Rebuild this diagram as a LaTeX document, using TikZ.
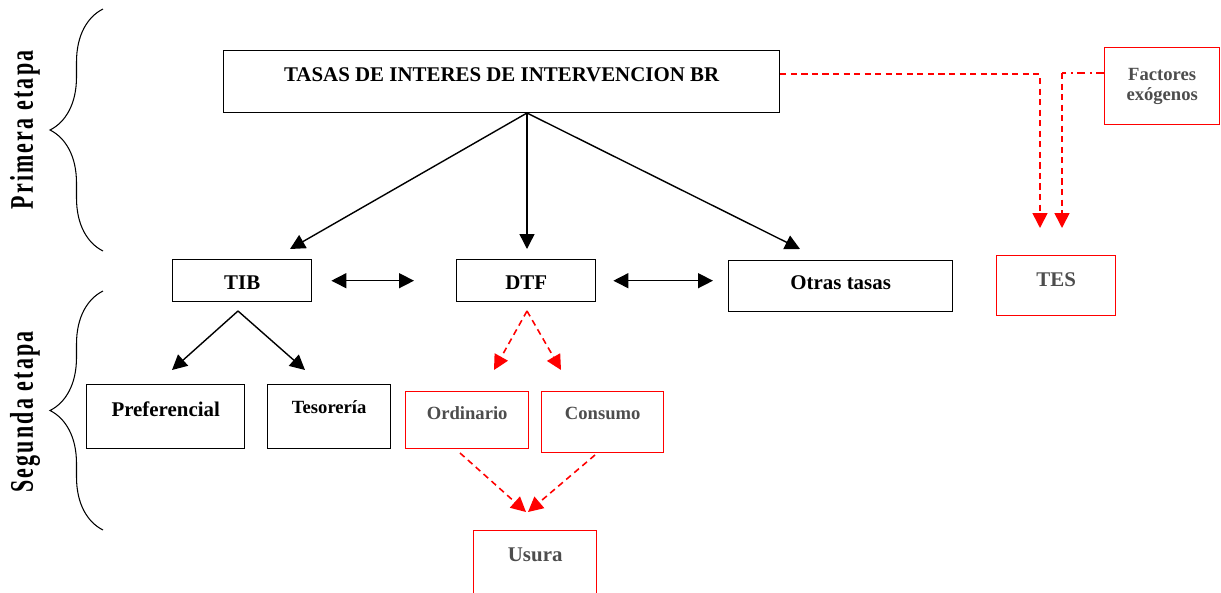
\documentclass[tikz,border=0pt]{standalone}
\usepackage{fontspec}
\setmainfont{Liberation Serif}
\newfontfamily\spaced[LetterSpace=10]{Liberation Serif}
\usetikzlibrary{arrows.meta}
\usetikzlibrary{decorations.pathreplacing}
\definecolor{txtgray}{HTML}{4D4D4D}
\tikzset{
  caja/.style={draw, line width=0.8pt, inner sep=0pt, anchor=north west, font=\fontsize{11.9}{14}\selectfont\bfseries},
  cajaroja/.style={caja, draw=red, text=txtgray},
  chica/.style={font=\fontsize{10.6}{11.3}\selectfont\bfseries},
  flecha/.style={->, line width=0.8pt},
  rojo/.style={->, red, line width=0.9pt, dash pattern=on 3.5pt off 2.5pt},
  llave/.style={decorate, decoration={brace, amplitude=1.06cm}, line width=0.6pt},
  etapa/.style={rotate=90, yscale=1.5, font=\spaced\fontsize{12.5}{14}\selectfont\bfseries}
}

\begin{document}
\begin{tikzpicture}[x=0.02cm, y=-0.02cm, >={Triangle[length=8.5pt,width=8.5pt]}]
\useasboundingbox (0,0) rectangle (1221,592);

% primera etapa
\node[caja, minimum width=11.12cm, text height=.62cm, text depth=.62cm] (main) at (223,50) {TASAS DE INTERES DE INTERVENCION BR};
\node[cajaroja, chica, align=center, minimum width=2.30cm, minimum height=1.54cm] (fac) at (1104,47) {Factores\\exógenos};

\node[caja, minimum width=2.78cm, text height=.60cm, text depth=.24cm] (tib) at (172,259) {TIB};
\node[caja, minimum width=2.78cm, text height=.60cm, text depth=.24cm] (dtf) at (456,259) {DTF};
\node[caja, minimum width=4.48cm, text height=.58cm, text depth=.44cm] (otras) at (728,260) {Otras tasas};
\node[cajaroja, minimum width=2.38cm, text height=.62cm, text depth=.58cm] (tes) at (996,255) {TES};

% segunda etapa
\node[caja, minimum width=3.16cm, text height=.64cm, text depth=.64cm] (pref) at (86,384) {Preferencial};
\node[caja, chica, minimum width=2.46cm, text height=.58cm, text depth=.70cm] (tesor) at (267,384) {Tesorería};
\node[cajaroja, chica, minimum width=2.46cm, text height=.56cm, text depth=.58cm] (ord) at (405,391) {Ordinario};
\node[cajaroja, chica, minimum width=2.44cm, text height=.56cm, text depth=.66cm] (cons) at (541,391) {Consumo};
\node[cajaroja, minimum width=2.46cm, text height=.62cm, text depth=.80cm] (usura) at (473,530) {Usura};

\node[etapa] (e1) at (25,130) {Primera etapa};
\node[etapa] (e2) at (25,412) {Segunda etapa};
\draw[llave] (103,251) -- (103,9);
\draw[llave] (103,530) -- (103,291);

\coordinate (o) at (527,113);
\coordinate (t1) at (290,249);
\coordinate (t2) at (527,249);
\coordinate (t3) at (800,249);
\coordinate (b) at (238,311);
\coordinate (p1) at (172,370);
\coordinate (p2) at (305,370);
\coordinate (d) at (527,311);
\coordinate (q1) at (494,370);
\coordinate (q2) at (561,370);
\coordinate (r1) at (460,453);
\coordinate (r2) at (595,455);
\coordinate (u1) at (526,512);
\coordinate (u2) at (528,512);
\coordinate (tesa) at (1040,228);
\coordinate (tesb) at (1062,228);
\coordinate (k) at (1062,73);

\draw[flecha] (o) -- (t1);
\draw[flecha] (o) -- (t2);
\draw[flecha] (o) -- (t3);
\draw[flecha, <->, shorten <=.38cm, shorten >=.84cm] (tib) -- (dtf);
\draw[flecha, <->, shorten <=.34cm, shorten >=.30cm] (dtf.east) -- (dtf.east -| otras.west);
\draw[flecha] (b) -- (p1);
\draw[flecha] (b) -- (p2);

\draw[rojo] (d) -- (q1);
\draw[rojo] (d) -- (q2);
\draw[rojo] (r1) -- (u1);
\draw[rojo] (r2) -- (u2);
\draw[rojo] ([yshift=.15cm]main.east) -| (tesa);
\draw[red, line width=1pt, dash pattern=on 4.5pt off 2.5pt on 1.2pt off 2.5pt] (fac.west |- k) -- (k);
\draw[rojo] (k) -- (tesb);
\end{tikzpicture}
\end{document}
